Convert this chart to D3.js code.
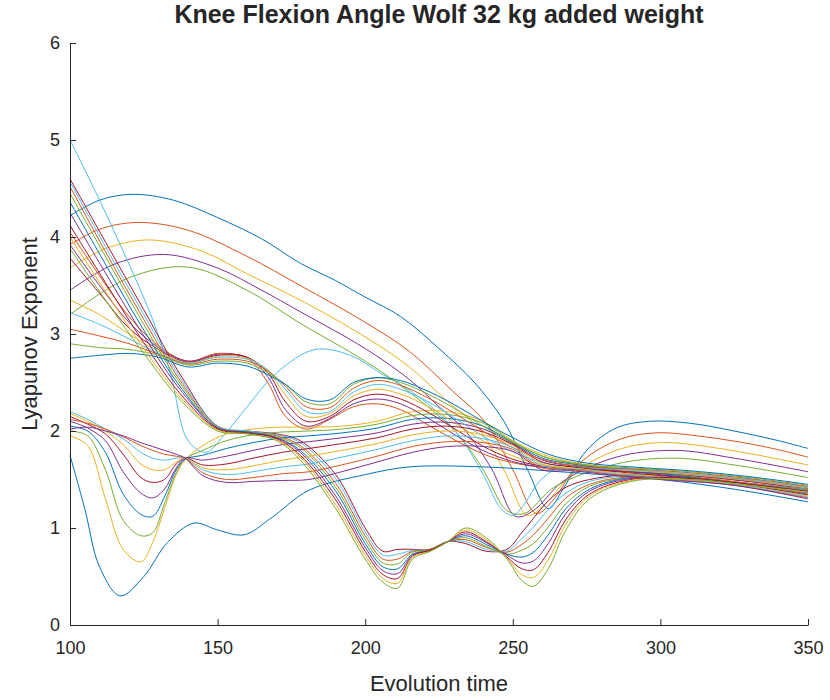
<!DOCTYPE html>
<html>
<head>
<meta charset="utf-8">
<script src="https://cdnjs.cloudflare.com/ajax/libs/d3/7.8.5/d3.min.js"></script>
<style>
    body { margin: 0; background: #fff; }
    svg text { font-family: "Liberation Sans", Arial, Helvetica, sans-serif; fill: #262626; }
    .axis path, .axis line { stroke: #262626; }
</style>
</head>
<body>
<div id="chart"></div>
<script>
// Knee flexion Lyapunov curves

// axis ticks
var xTicks = [100, 150, 200, 250, 300, 350];
var yTicks = [0, 1, 2, 3, 4, 5, 6];

// MATLAB default colour order
var lineColors = ["#0072BD", "#D95319", "#EDB120", "#7E2F8E", "#77AC30", "#4DBEEE", "#A2142F"];

// top arcs: [time, exponent] knots
var topArcs = [
    [[100,4.22],[110,4.38],[121,4.44],[135,4.38],[150,4.2],[165,3.98],[178,3.73],[190,3.55],[200,3.38],[212,3.18],[225,2.85],[237,2.5],[247,2.1],[255,1.6],[262,1.2],[267,1.4],[275,1.8],[285,2.03],[296,2.1],[310,2.08],[325,2.0],[340,1.9],[350,1.82]],
    [[100,3.92],[110,4.08],[123,4.15],[140,4.07],[160,3.8],[178,3.5],[200,3.12],[215,2.82],[230,2.4],[241,2.08],[250,1.6],[258,1.15],[264,1.3],[272,1.65],[285,1.9],[298,1.98],[315,1.94],[335,1.84],[350,1.73]],
    [[100,3.68],[112,3.88],[127,3.97],[145,3.85],[160,3.62],[178,3.35],[200,2.97],[215,2.66],[228,2.3],[238,2.04],[247,1.6],[255,1.13],[261,1.25],[270,1.55],[285,1.8],[300,1.88],[320,1.82],[350,1.65]],
    [[100,3.45],[115,3.72],[132,3.82],[150,3.68],[165,3.45],[178,3.23],[200,2.85],[215,2.53],[225,2.25],[234,2.0],[243,1.6],[251,1.12],[257,1.18],[267,1.48],[285,1.73],[305,1.8],[325,1.72],[350,1.58]],
    [[100,3.2],[120,3.58],[140,3.69],[160,3.45],[178,3.11],[200,2.72],[215,2.4],[231,1.98],[240,1.6],[248,1.18],[254,1.15],[264,1.42],[285,1.66],[305,1.72],[325,1.65],[350,1.52]],
    [[100,5.0],[110,4.38],[120,3.72],[128,3.15],[134,2.6],[140,1.9],[146,1.78],[152,1.95],[160,2.25],[170,2.6],[183,2.84],[195,2.78],[205,2.6],[215,2.42],[225,2.18],[233,1.9],[240,1.55],[246,1.2],[250,1.13],[254,1.25],[259,1.48],[266,1.62],[285,1.6],[310,1.55],[330,1.5],[350,1.42]]
];

// lowest single curve
var lowLine = [[100,1.75],[105,1.2],[110,0.6],[117,0.3],[125,0.5],[133,0.85],[142,1.05],[150,0.98],[159,0.93],[168,1.1],[181,1.39],[200,1.55],[215,1.63],[240,1.63],[266,1.58],[300,1.5],[325,1.4],[350,1.27]];

// steep drop family with the two deep troughs
var steepTimes = [100,112,125,138,150,160,170,178,190,200,206,211,216,222,228,234,241,248,253,257,262,268,276,290,310,330,350];
var steepLines = [
    [4.60,3.95,3.25,2.55,2.05,2.00,1.97,1.90,1.55,1.00,0.76,0.78,0.78,0.78,0.86,0.84,0.76,0.78,0.95,1.10,1.28,1.42,1.50,1.55,1.52,1.46,1.40],
    [4.57,3.90,3.20,2.52,2.05,2.00,1.96,1.88,1.51,0.96,0.72,0.73,0.77,0.78,0.86,0.86,0.78,0.76,0.89,1.01,1.19,1.36,1.48,1.54,1.52,1.46,1.40],
    [4.52,3.85,3.15,2.49,2.04,1.99,1.95,1.85,1.46,0.92,0.68,0.68,0.76,0.78,0.86,0.88,0.80,0.75,0.83,0.93,1.10,1.31,1.45,1.53,1.52,1.46,1.39],
    [4.45,3.80,3.10,2.46,2.04,1.99,1.94,1.83,1.42,0.88,0.64,0.63,0.75,0.77,0.86,0.90,0.81,0.73,0.77,0.84,1.01,1.25,1.43,1.52,1.51,1.45,1.39],
    [4.36,3.72,3.04,2.43,2.03,1.99,1.93,1.80,1.38,0.84,0.60,0.58,0.73,0.77,0.86,0.92,0.83,0.73,0.70,0.75,0.93,1.20,1.40,1.52,1.51,1.45,1.38],
    [4.25,3.63,2.98,2.40,2.03,1.98,1.93,1.78,1.33,0.80,0.56,0.53,0.72,0.77,0.86,0.94,0.85,0.72,0.64,0.66,0.84,1.15,1.38,1.51,1.51,1.45,1.38],
    [4.12,3.53,2.91,2.36,2.02,1.98,1.92,1.75,1.29,0.76,0.52,0.48,0.71,0.77,0.86,0.96,0.86,0.70,0.58,0.57,0.75,1.09,1.35,1.50,1.51,1.45,1.37],
    [4.00,3.44,2.85,2.33,2.01,1.97,1.91,1.73,1.24,0.72,0.48,0.43,0.70,0.76,0.86,0.98,0.88,0.69,0.52,0.49,0.67,1.04,1.33,1.49,1.50,1.44,1.37],
    [3.88,3.35,2.80,2.30,2.00,1.97,1.90,1.70,1.20,0.68,0.44,0.38,0.68,0.76,0.86,1.00,0.90,0.68,0.46,0.40,0.58,0.98,1.30,1.48,1.50,1.44,1.36]
];

// plateau then bump family
var plateauTimes = [100,110,120,130,140,150,160,167,173,180,188,196,204,212,222,232,242,252,262,275,290,310,330,350];
var plateauLines = [
    [4.05,3.60,3.18,2.88,2.72,2.80,2.75,2.50,2.15,2.02,2.12,2.25,2.28,2.22,2.05,1.88,1.74,1.66,1.62,1.60,1.58,1.54,1.48,1.40],
    [3.92,3.50,3.12,2.86,2.72,2.79,2.76,2.56,2.22,2.05,2.13,2.28,2.33,2.28,2.12,1.93,1.77,1.67,1.62,1.60,1.58,1.54,1.48,1.40],
    [3.78,3.42,3.06,2.84,2.71,2.78,2.76,2.60,2.30,2.10,2.15,2.32,2.38,2.33,2.18,1.99,1.81,1.69,1.63,1.60,1.58,1.55,1.49,1.41],
    [3.35,3.20,3.00,2.82,2.70,2.77,2.75,2.62,2.37,2.15,2.18,2.36,2.43,2.38,2.24,2.05,1.86,1.72,1.64,1.61,1.59,1.55,1.49,1.41],
    [3.22,3.10,2.95,2.80,2.70,2.76,2.74,2.63,2.43,2.20,2.20,2.40,2.48,2.43,2.29,2.10,1.91,1.76,1.66,1.62,1.60,1.56,1.50,1.42],
    [3.05,2.98,2.90,2.79,2.69,2.74,2.72,2.62,2.46,2.25,2.24,2.44,2.52,2.47,2.33,2.15,1.96,1.80,1.69,1.63,1.61,1.57,1.51,1.43],
    [2.90,2.86,2.84,2.78,2.68,2.72,2.70,2.60,2.48,2.30,2.28,2.48,2.55,2.50,2.37,2.20,2.01,1.85,1.72,1.65,1.62,1.58,1.52,1.44],
    [2.75,2.78,2.80,2.76,2.66,2.70,2.67,2.58,2.48,2.33,2.32,2.50,2.55,2.52,2.40,2.24,2.06,1.90,1.76,1.67,1.63,1.59,1.53,1.45]
];

// low start family with early dips
var dipTimes = [100,106,112,118,124,128,132,136,139,145,153,162,172,181,192,204,216,228,240,250,260,270,285,300,325,350];
var dipLines = [
    [1.95,1.85,1.30,0.78,0.65,0.85,1.20,1.55,1.70,1.85,1.97,2.02,2.04,2.04,2.05,2.10,2.20,2.20,2.10,1.90,1.76,1.68,1.62,1.58,1.48,1.38],
    [2.00,1.95,1.60,1.08,0.92,0.95,1.25,1.57,1.71,1.80,1.90,1.96,1.99,2.00,2.02,2.07,2.16,2.17,2.08,1.89,1.74,1.67,1.61,1.57,1.47,1.37],
    [2.05,2.00,1.78,1.35,1.14,1.12,1.32,1.60,1.71,1.75,1.82,1.88,1.93,1.95,1.98,2.03,2.12,2.13,2.05,1.88,1.72,1.66,1.60,1.56,1.47,1.36],
    [2.10,2.03,1.90,1.58,1.36,1.31,1.40,1.62,1.72,1.70,1.74,1.80,1.86,1.89,1.93,1.98,2.07,2.09,2.02,1.87,1.70,1.64,1.59,1.55,1.46,1.35],
    [2.15,2.07,1.97,1.76,1.52,1.47,1.50,1.66,1.72,1.65,1.66,1.72,1.78,1.82,1.87,1.93,2.02,2.05,1.99,1.86,1.68,1.63,1.58,1.54,1.46,1.34],
    [2.18,2.10,2.00,1.86,1.66,1.60,1.60,1.68,1.72,1.62,1.60,1.64,1.70,1.74,1.80,1.87,1.96,2.00,1.96,1.85,1.66,1.62,1.57,1.53,1.45,1.33],
    [2.20,2.12,2.02,1.92,1.78,1.72,1.70,1.72,1.72,1.60,1.55,1.58,1.63,1.66,1.73,1.81,1.90,1.95,1.92,1.83,1.64,1.61,1.56,1.52,1.45,1.32],
    [2.12,2.08,2.02,1.94,1.85,1.80,1.76,1.74,1.72,1.57,1.50,1.52,1.56,1.58,1.65,1.74,1.84,1.89,1.88,1.81,1.62,1.60,1.55,1.51,1.44,1.31],
    [2.02,2.04,2.00,1.95,1.88,1.84,1.80,1.76,1.72,1.54,1.47,1.48,1.49,1.50,1.58,1.68,1.78,1.84,1.84,1.79,1.60,1.59,1.54,1.50,1.44,1.30]
];

window.onload = drawChart;

function drawChart() {
    var width = 830, height = 700;
    var left = 70, right = 808, top = 43, bottom = 625;

    var svg = d3.select("#chart")
        .append("svg")
        .attr("width", width)
        .attr("height", height);

    var x = d3.scaleLinear().domain([100, 350]).range([left, right]);
    var y = d3.scaleLinear().domain([0, 6]).range([bottom, top]);

    // put every family into knot form
    function toKnots(times, vals) {
        return times.map(function(t, i) { return [t, vals[i]]; });
    }
    var steep = steepLines.map(function(v) { return toKnots(steepTimes, v); });
    var plateau = plateauLines.map(function(v) { return toKnots(plateauTimes, v); });
    var dips = dipLines.map(function(v) { return toKnots(dipTimes, v); });

    // plotting order, colour follows MATLAB cycle
    var series = topArcs.slice();
    series.push(steep[0]);
    series.push(lowLine);
    var rest = Math.max(steep.length, plateau.length, dips.length);
    for (var i = 0; i < rest; i++) {
        if (plateau[i]) series.push(plateau[i]);
        if (dips[i]) series.push(dips[i]);
        if (i > 0 && steep[i]) series.push(steep[i]);
    }

    var line = d3.line()
        .x(function(d) { return x(d[0]); })
        .y(function(d) { return y(d[1]); })
        .curve(d3.curveCatmullRom.alpha(0.5));

    svg.append("g")
        .selectAll("path")
        .data(series)
        .enter()
        .append("path")
        .attr("d", line)
        .attr("fill", "none")
        .attr("stroke", function(d, i) { return lineColors[i % lineColors.length]; })
        .attr("stroke-width", 1);

    // axes with inward ticks
    var xAxis = svg.append("g")
        .attr("class", "axis")
        .attr("transform", "translate(0," + bottom + ")")
        .call(d3.axisBottom(x).tickValues(xTicks).tickSize(-6).tickSizeOuter(0).tickPadding(16).tickFormat(d3.format("d")));
    xAxis.selectAll("text").style("font-size", "18px");

    var yAxis = svg.append("g")
        .attr("class", "axis")
        .attr("transform", "translate(" + left + ",0)")
        .call(d3.axisLeft(y).tickValues(yTicks).tickSize(-6).tickSizeOuter(0).tickPadding(10).tickFormat(d3.format("d")));
    yAxis.selectAll("text").style("font-size", "18px");

    svg.selectAll(".axis .domain").attr("stroke-width", 1);

    svg.append("text")
        .attr("x", (left + right) / 2)
        .attr("y", 23)
        .attr("text-anchor", "middle")
        .style("font-size", "25px")
        .style("font-weight", "bold")
        .text("Knee Flexion Angle Wolf 32 kg added weight");

    svg.append("text")
        .attr("x", (left + right) / 2)
        .attr("y", 691)
        .attr("text-anchor", "middle")
        .style("font-size", "22px")
        .text("Evolution time");

    svg.append("text")
        .attr("transform", "translate(37," + ((top + bottom) / 2) + ") rotate(-90)")
        .attr("text-anchor", "middle")
        .style("font-size", "22px")
        .text("Lyapunov Exponent");
}
</script>
</body>
</html>
